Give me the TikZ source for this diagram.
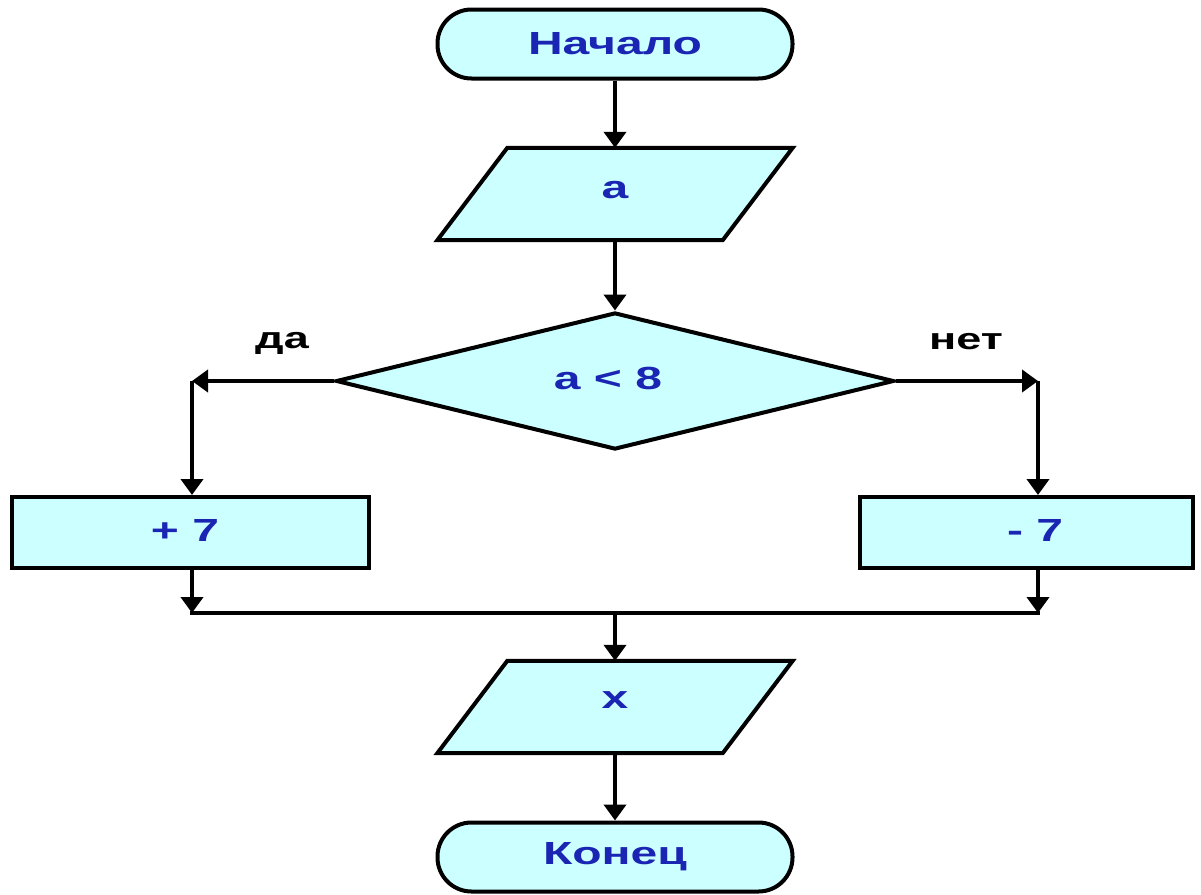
\documentclass[tikz,border=0pt]{standalone}
\usepackage{fontspec}
\usepackage{graphicx}
\setmainfont{Liberation Sans}
\usetikzlibrary{shapes.geometric,arrows.meta}
\definecolor{fillc}{RGB}{204,255,255}
\definecolor{txtc}{RGB}{26,38,179}
\newcommand{\wtxt}[1]{\scalebox{1.5}[1]{#1}}
\begin{document}
\begin{tikzpicture}[x=1pt,y=-1pt,
  base/.style={draw=black, line width=4pt, fill=fillc, font=\fontsize{32}{36}\selectfont\bfseries, text=txtc, inner sep=0pt},
  term/.style={base, rectangle, rounded corners=34pt, minimum width=355pt, minimum height=69pt},
  io/.style={rectangle, font=\fontsize{32}{36}\selectfont\bfseries, text=txtc, inner sep=0pt, minimum width=285pt, minimum height=92pt},
  iobox/.style={draw=black, line width=4pt, fill=fillc, line join=miter},
  dec/.style={base, diamond, minimum width=558pt, minimum height=137pt},
  proc/.style={base, rectangle, minimum height=71pt},
  lbl/.style={font=\fontsize{30}{36}\selectfont\bfseries, text=black, inner sep=0pt},
  btxt/.style={font=\fontsize{32}{36}\selectfont\bfseries, text=txtc, inner sep=0pt},
  arr/.style={line width=4pt, -{Triangle[length=16pt,width=22pt]}},
  ln/.style={line width=4pt}]
\useasboundingbox (0,0) rectangle (1201,894);
\fill[white] (0,0) rectangle (1201,894);

\node[term] (start) at (615,44) {\wtxt{Начало}};
\node[io] (a) at (615,194) {};
\filldraw[iobox] ([xshift=35pt]a.north west) -- ([xshift=35pt]a.north east) -- ([xshift=-35pt]a.south east) -- ([xshift=-35pt]a.south west) -- cycle;
\node[btxt] (at) at (615,190) {\wtxt{a}};
\node[dec] (d) at (615,381) {};
\node[btxt] (dt) at (608,378) {\wtxt{a < 8}};
\node[proc, minimum width=357pt] (p) at (190.5,532.5) {};
\node[btxt] (pt) at (185,530) {\wtxt{+ 7}};
\node[proc, minimum width=333pt] (m) at (1026.5,532.5) {};
\node[btxt] (mt) at (1035,530) {\wtxt{- 7}};
\node[io] (x) at (615,707) {};
\filldraw[iobox] ([xshift=35pt]x.north west) -- ([xshift=35pt]x.north east) -- ([xshift=-35pt]x.south east) -- ([xshift=-35pt]x.south west) -- cycle;
\node[btxt] (xt) at (615,700) {\wtxt{x}};
\node[term] (end) at (615,857) {\wtxt{Конец}};

\node[lbl] (da) at (282,343) {\wtxt{да}};
\node[lbl] (net) at (966,342) {\wtxt{нет}};

\coordinate (cl) at (192,381);
\coordinate (cr) at (1038,381);
\coordinate (ml) at (192,613);
\coordinate (mr) at (1038,613);
\coordinate (mm) at (615,613);

\draw[arr] (start.south) -- (a.north);
\draw[arr] (a.south) -- (d.north);
\draw[arr] (d.west) -- (cl);
\draw[arr] (cl) -- (cl |- p.north);
\draw[arr] (d.east) -- (cr);
\draw[arr] (cr) -- (cr |- m.north);
\draw[arr] (ml |- p.south) -- (ml);
\draw[arr] (mr |- m.south) -- (mr);
\draw[ln, line cap=rect] (ml) -- (mr);
\draw[arr] (mm) -- (x.north);
\draw[arr] (x.south) -- (end.north);
\end{tikzpicture}
\end{document}
